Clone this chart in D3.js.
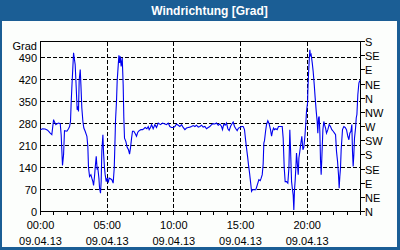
<!DOCTYPE html>
<html><head><meta charset="utf-8">
<script src="https://cdn.jsdelivr.net/npm/d3@7"></script>
<style>body{margin:0;background:#fff}svg{display:block}</style>
</head><body><svg id="c" width="400" height="250"></svg>
<script>
const title = "Windrichtung [Grad]";
const yUnit = "Grad";
const hours = [
0.00,0.15,0.35,0.50,0.60,0.73,0.85,0.98,1.05,1.15,1.25,1.35,1.48,1.55,1.65,1.73,1.80,1.98,2.10,2.18,
2.25,2.30,2.35,2.43,2.48,2.53,2.60,2.68,2.75,2.80,2.85,2.90,2.98,3.03,3.10,3.18,3.25,3.35,3.48,3.55,
3.60,3.68,3.78,3.85,3.93,3.98,4.05,4.10,4.18,4.25,4.30,4.38,4.43,4.50,4.55,4.60,4.68,4.73,4.80,4.85,
4.93,5.00,5.08,5.15,5.25,5.35,5.45,5.53,5.58,5.63,5.70,5.75,5.83,5.88,5.93,5.98,6.05,6.13,6.20,6.25,
6.30,6.40,6.50,6.60,6.68,6.75,6.83,6.90,7.00,7.10,7.20,7.30,7.40,7.53,7.65,7.75,7.85,7.98,
8.08,8.15,8.25,8.33,8.45,8.58,8.70,8.83,9.00,9.15,9.33,9.45,9.58,9.70,9.83,9.95,10.08,10.20,10.33,10.45,
10.58,10.70,10.83,10.95,11.08,11.20,11.33,11.45,11.58,11.70,11.83,11.95,12.08,12.20,12.33,12.45,12.58,12.70,12.83,12.95,
13.08,13.20,13.33,13.45,13.58,13.65,13.75,13.85,13.95,14.05,14.15,14.25,14.35,14.45,14.55,14.65,14.75,14.85,14.95,15.08,
15.20,15.30,15.38,15.45,15.53,15.60,15.68,15.75,15.83,15.90,16.00,16.15,
16.30,16.38,16.48,16.55,16.63,16.70,16.75,16.80,16.88,16.95,17.05,17.15,17.25,17.33,17.40,17.48,17.55,17.65,17.75,17.85,
18.00,18.13,18.20,18.28,18.35,18.45,18.55,18.63,18.70,18.75,18.83,18.90,18.95,19.00,19.05,19.10,19.15,19.20,19.28,19.33,
19.38,19.45,19.53,19.60,19.68,19.75,19.83,19.90,19.95,20.03,20.05,20.10,20.15,20.20,20.25,20.30,20.38,20.45,20.53,20.60,
20.68,20.75,20.80,20.85,20.90,20.95,21.00,21.05,21.10,21.18,21.25,21.30,21.38,21.45,21.55,21.65,21.75,21.85,21.95,22.05,
22.13,22.20,22.28,22.35,22.40,22.45,22.50,22.55,22.60,22.65,22.75,22.85,22.95,23.05,23.13,23.20,23.28,23.35,23.40,23.45,
23.50,23.55,23.63,23.68,23.73,23.80,23.88,23.95
];
const degrees = [
260,263,262,259,255,249,244,292,284,276,279,281,279,244,146,180,257,255,263,270,
286,345,392,461,504,488,467,392,323,334,318,416,451,403,329,286,265,255,239,207,
140,111,117,106,95,83,111,138,175,133,138,106,74,58,95,191,244,186,138,117,
95,106,92,106,104,101,90,138,212,292,350,414,465,496,472,493,461,488,403,297,
233,223,204,196,182,202,233,255,255,248,239,252,257,260,260,263,267,263,
270,260,267,276,263,276,267,281,276,281,278,276,281,270,267,267,270,278,274,270,
276,267,260,265,267,268,270,273,270,274,268,270,274,268,270,263,267,270,276,279,
278,281,274,278,270,260,278,274,281,263,257,270,278,284,270,263,257,265,267,270,
270,260,228,202,175,148,122,95,64,69,69,69,
90,101,98,106,117,151,217,225,255,276,288,278,260,239,255,265,260,263,260,270,
270,270,233,138,95,95,90,138,260,202,95,69,53,5,69,98,138,186,143,117,
170,191,217,239,196,204,239,281,318,345,382,435,477,514,493,498,472,445,403,361,
318,286,249,297,302,255,164,117,170,260,286,276,265,249,260,276,270,260,255,249,
244,191,159,117,74,111,138,196,228,260,270,267,260,239,228,249,255,276,191,143,
180,233,265,297,308,371,408,416
];
const leftTicks = [0,70,140,210,280,350,420,490];
const rightTicks = [0,45,90,135,180,225,270,315,360,405,450,495,540];
const rightLabels = ["N","NE","E","SE","S","SW","W","NW","N","NE","E","SE","S"];
const hourTicks = d3.range(0,25,1);
const timeTicks = [0,5,10,15,20];
const timeLabels = ["00:00","05:00","10:00","15:00","20:00"];
const dateLabel = "09.04.13";

const svg = d3.select("#c");
const blue = "#1b5e95";
const bg = "#fcfefc";
const font = "'Liberation Sans', Arial, sans-serif";

svg.append("rect").attr("width",400).attr("height",250).attr("fill",blue);
svg.append("rect").attr("x",2).attr("y",21).attr("width",395).attr("height",226).attr("fill",bg);
svg.append("text").attr("x",209.5).attr("y",14.5).attr("text-anchor","middle")
  .attr("fill","#fff").attr("font-family",font).attr("font-weight","bold").attr("font-size",12).text(title);

const x = d3.scaleLinear().domain([0,24]).range([40.5,360.5]);
const y = d3.scaleLinear().domain([0,540]).range([211.5,41.5]);
const py = v => Math.round(y(v)-0.5)+0.5;
const px = v => Math.round(x(v)-0.5)+0.5;

const g = svg.append("g").attr("shape-rendering","crispEdges");
// horizontal grid
g.selectAll(".hg").data(leftTicks.filter(d=>d>0)).enter().append("line")
  .attr("x1",x(0)).attr("x2",x(24)).attr("y1",d=>py(d)).attr("y2",d=>py(d))
  .attr("stroke","#000").attr("stroke-dasharray","4,2");
// vertical grid
g.selectAll(".vg").data(timeTicks.filter(d=>d>0)).enter().append("line")
  .attr("x1",d=>px(d)).attr("x2",d=>px(d)).attr("y1",y(540)).attr("y2",y(0))
  .attr("stroke","#000").attr("stroke-dasharray","4,2");
// frame
g.append("rect").attr("x",x(0)).attr("y",y(540)).attr("width",x(24)-x(0)).attr("height",y(0)-y(540))
  .attr("fill","none").attr("stroke","#000");
// hour ticks
g.selectAll(".ht").data(hourTicks).enter().append("line")
  .attr("x1",d=>px(d)).attr("x2",d=>px(d)).attr("y1",y(0)).attr("y2",y(0)+3).attr("stroke","#000");
// right ticks
g.selectAll(".rt").data(rightTicks).enter().append("line")
  .attr("x1",x(24)).attr("x2",x(24)+4).attr("y1",d=>py(d)).attr("y2",d=>py(d)).attr("stroke","#000");

const t = svg.append("g").attr("font-family",font).attr("font-size",11).attr("fill","#000");
t.selectAll(".lt").data(leftTicks).enter().append("text")
  .attr("x",37).attr("y",d=>py(d)+4).attr("text-anchor","end").text(d=>d);
t.append("text").attr("x",37).attr("y",50).attr("text-anchor","end").text(yUnit);
t.selectAll(".rl").data(rightTicks).enter().append("text")
  .attr("x",365).attr("y",d=>py(d)+4).text((d,i)=>rightLabels[i]);
t.selectAll(".tl").data(timeTicks).enter().append("text")
  .attr("x",d=>x(d)).attr("y",229).attr("text-anchor","middle").text((d,i)=>timeLabels[i]);
t.selectAll(".dl").data(timeTicks).enter().append("text")
  .attr("x",d=>x(d)).attr("y",245).attr("text-anchor","middle").text(dateLabel);

const line = d3.line().x((d,i)=>x(hours[i])).y(d=>y(d));
svg.append("path").datum(degrees).attr("d",line).attr("fill","none")
  .attr("stroke","#0000f0").attr("stroke-width",1.1).attr("stroke-linejoin","miter");
</script>
</body></html>
